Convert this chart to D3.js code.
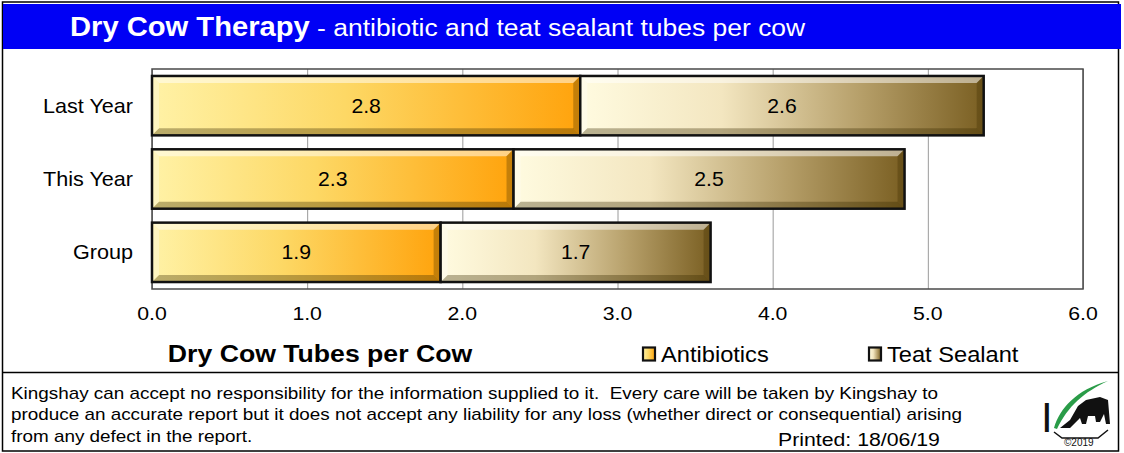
<!DOCTYPE html>
<html>
<head>
<meta charset="utf-8">
<script src="https://cdn.jsdelivr.net/npm/d3@7"></script>
<style>
    body { margin: 0; background: #fff; font-family: "Liberation Sans", Arial, sans-serif; }
    svg text { font-family: "Liberation Sans", Arial, sans-serif; }
</style>
</head>
<body>
<div id="chart"></div>
<script>
// --------- DATA ---------
const categories = ["Last Year", "This Year", "Group"];
const antibiotics = [2.76, 2.33, 1.86];
const teatSealant = [2.6, 2.52, 1.74];
const seriesNames = ["Antibiotics", "Teat Sealant"];
const xTicks = [0, 1, 2, 3, 4, 5, 6];

// --------- CHART ---------
const W = 1124, H = 453;
let margin = {top: 69, right: 41, bottom: 164, left: 152},
    width = W - margin.left - margin.right,
    height = H - margin.top - margin.bottom;

let svg = d3.select("#chart")
    .append("svg")
    .attr("width", W)
    .attr("height", H);

let defs = svg.append("defs");

// gradients for the two series
function hGrad(id, stops) {
    let g = defs.append("linearGradient").attr("id", id)
        .attr("x1", "0%").attr("x2", "100%").attr("y1", "0%").attr("y2", "0%");
    stops.forEach(s => g.append("stop").attr("offset", s[0]).attr("stop-color", s[1]));
}
hGrad("gradAnti", [["0%", "#fff2a6"], ["45%", "#fdd865"], ["100%", "#ffa30c"]]);
hGrad("gradTeat", [["0%", "#fffbe0"], ["35%", "#f3e6c0"], ["70%", "#b59e68"], ["100%", "#7a5f22"]]);
let fills = ["url(#gradAnti)", "url(#gradTeat)"];

// text stretched sideways a little, like the original rendering
function wideText(parent, x, y, sx) {
    return parent.append("g").attr("transform", "translate(" + x + "," + y + ") scale(" + sx + ",1)")
        .append("text");
}

// frame and title band
svg.append("rect").attr("x", 2.5).attr("y", 2).attr("width", 1116).attr("height", 449)
    .attr("fill", "none").attr("stroke", "#000").attr("stroke-width", 1.5);
svg.append("rect").attr("x", 3).attr("y", 4).attr("width", 1118).attr("height", 45)
    .attr("fill", "#0000f5");
let title = wideText(svg, 70, 36, 1.08).attr("fill", "#fff");
title.append("tspan").attr("font-weight", "bold").attr("font-size", 27).text("Dry Cow Therapy");
title.append("tspan").attr("font-size", 24.5).text(" - antibiotic and teat sealant tubes per cow");

// footer separator
svg.append("line").attr("x1", 2).attr("x2", 1119).attr("y1", 372.5).attr("y2", 372.5)
    .attr("stroke", "#000").attr("stroke-width", 1.5);

let graph = svg.append("g")
    .attr("transform", "translate(" + margin.left + "," + margin.top + ")");

// Scales
let xScale = d3.scaleLinear().domain([0, 6]).range([0, width]);
let yScale = d3.scaleBand().domain(categories).range([0, height]).paddingInner(0.19).paddingOuter(0.095);

// Gridlines
let xGrid = d3.axisBottom(xScale).tickValues(xTicks).tickFormat("").tickSizeInner(height).tickSizeOuter(0);
graph.append("g").attr("class", "gridlines").call(xGrid)
    .call(g => g.select(".domain").remove())
    .call(g => g.selectAll("line").attr("stroke", "#9a9a9a").attr("stroke-width", 1));

// plot frame
graph.append("rect").attr("width", width).attr("height", height)
    .attr("fill", "none").attr("stroke", "#4a4a4a").attr("stroke-width", 1.5);

// X axis labels
xTicks.forEach(t => {
    wideText(graph, xScale(t), height + 31, 1.12)
        .attr("text-anchor", "middle").attr("font-size", 19).text(d3.format(".1f")(t));
});

// Y axis labels
categories.forEach(c => {
    wideText(graph, -19, yScale(c) + yScale.bandwidth() / 2 + 7, 1.08)
        .attr("text-anchor", "end").attr("font-size", 20).text(c);
});

// Stacked bars
let rows = categories.map((c, i) => ({cat: c, Antibiotics: antibiotics[i], "Teat Sealant": teatSealant[i]}));
let stacked = d3.stack().keys(seriesNames)(rows);

function bevel(g, x0, y0, w, h) {
    let b = 7;
    let polys = [
        {p: [[x0, y0], [x0 + w, y0], [x0 + w - b, y0 + b], [x0 + b, y0 + b]], c: "#fff", o: 0.5},
        {p: [[x0, y0 + h], [x0 + w, y0 + h], [x0 + w - b, y0 + h - b], [x0 + b, y0 + h - b]], c: "#3a2a00", o: 0.35},
        {p: [[x0, y0], [x0 + b, y0 + b], [x0 + b, y0 + h - b], [x0, y0 + h]], c: "#fff", o: 0.3},
        {p: [[x0 + w, y0], [x0 + w - b, y0 + b], [x0 + w - b, y0 + h - b], [x0 + w, y0 + h]], c: "#3a2a00", o: 0.3}
    ];
    polys.forEach(q => g.append("polygon")
        .attr("points", q.p.map(pt => pt.join(",")).join(" "))
        .attr("fill", q.c).attr("fill-opacity", q.o));
}

stacked.forEach((series, si) => {
    let layer = graph.append("g");
    series.forEach(d => {
        let x0 = xScale(d[0]), x1 = xScale(d[1]);
        let y0 = yScale(d.data.cat), h = yScale.bandwidth();
        let g = layer.append("g");
        g.append("rect").attr("x", x0).attr("y", y0).attr("width", x1 - x0).attr("height", h)
            .attr("fill", fills[si]);
        bevel(g, x0, y0, x1 - x0, h);
        g.append("rect").attr("x", x0).attr("y", y0).attr("width", x1 - x0).attr("height", h)
            .attr("fill", "none").attr("stroke", "#111").attr("stroke-width", 2.5);
        wideText(g, (x0 + x1) / 2, y0 + h / 2 + 7, 1.06)
            .attr("text-anchor", "middle").attr("font-size", 20).attr("fill", "#000")
            .text(d3.format(".1f")(d[1] - d[0]));
    });
});

// Axis title
wideText(svg, 320, 362, 1.11).attr("text-anchor", "middle")
    .attr("font-size", 24).attr("font-weight", "bold").text("Dry Cow Tubes per Cow");

// Legend
let legendX = [642, 868];
seriesNames.forEach((name, i) => {
    svg.append("rect").attr("x", legendX[i] + 1).attr("y", 347.5).attr("width", 12).attr("height", 13)
        .attr("fill", fills[i]).attr("stroke", "#111").attr("stroke-width", 2.2);
    wideText(svg, legendX[i] + 19, 362, 1.1).attr("font-size", 21.5).text(name);
});

// Footer text
let foot = [
    "Kingshay can accept no responsibility for the information supplied to it.  Every care will be taken by Kingshay to",
    "produce an accurate report but it does not accept any liability for any loss (whether direct or consequential) arising",
    "from any defect in the report."
];
foot.forEach((line, i) => {
    wideText(svg, 11, 398.5 + i * 21.5, 1.18).attr("font-size", 16)
        .attr("xml:space", "preserve").style("white-space", "pre").text(line);
});
wideText(svg, 778, 446, 1.15).attr("font-size", 18.5).text("Printed: 18/06/19");

// Logo
let logo = svg.append("g").attr("transform", "translate(1040,378)");
logo.append("text").attr("x", 1).attr("y", 54).attr("font-family", "Liberation Serif, serif")
    .attr("font-size", 42).attr("fill", "#111").text("I");
logo.append("path").attr("d", "M14,50 C20,30 36,12 68,3 C44,14 28,28 17,51 Z").attr("fill", "#2a9c48");
logo.append("path")
    .attr("d", "M20,50 L30,42 L38,28 L46,22 L60,19 L68,22 L70,46 L66,46 L64,36 L60,44 L56,44 L55,38 L48,38 L46,46 L42,46 L40,40 L30,50 Z")
    .attr("fill", "#111");
logo.append("path").attr("d", "M14,54 L22,60 L58,60 L68,52").attr("fill", "none")
    .attr("stroke", "#111").attr("stroke-width", 1.5);
logo.append("text").attr("x", 24).attr("y", 68).attr("font-size", 10).attr("fill", "#111").text("\u00a92019");
</script>
</body>
</html>
